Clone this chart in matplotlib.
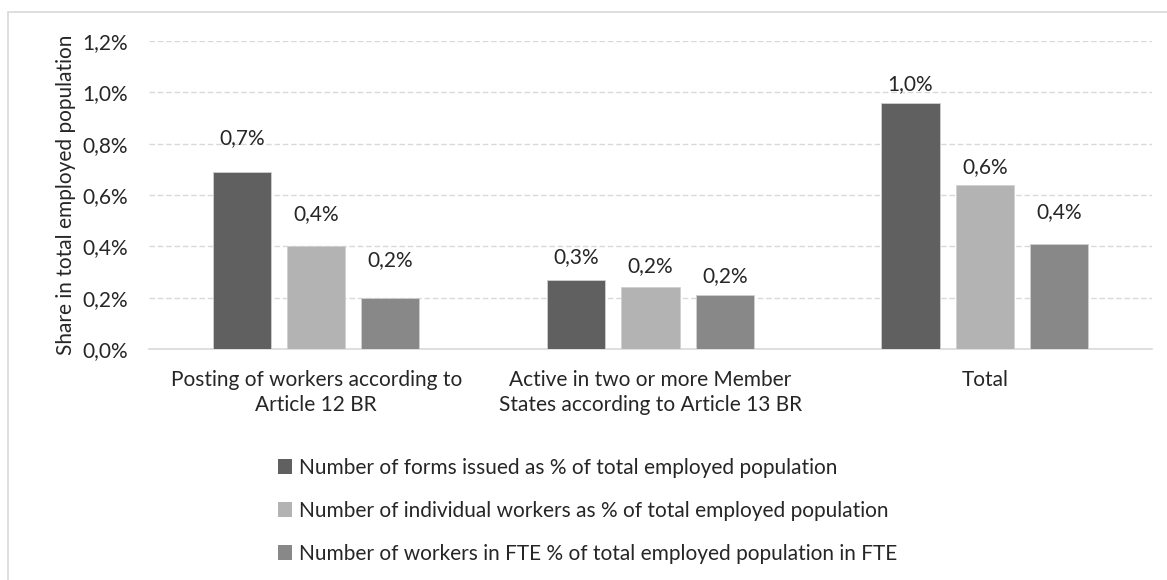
import numpy as np
import matplotlib.pyplot as plt
from matplotlib.patches import Rectangle, Patch

plt.rcParams['font.family'] = ['Lato', 'DejaVu Sans']

categories = ['Posting of workers according to\nArticle 12 BR',
              'Active in two or more Member\nStates according to Article 13 BR',
              'Total']
series_names = ['Number of forms issued as % of total employed population',
                'Number of individual workers as % of total employed population',
                'Number of workers in FTE % of total employed population in FTE']
forms_issued = [0.69, 0.27, 0.96]
individual_workers = [0.40, 0.24, 0.64]
workers_fte = [0.20, 0.21, 0.41]
bar_labels = [['0,7%', '0,3%', '1,0%'],
              ['0,4%', '0,2%', '0,6%'],
              ['0,2%', '0,2%', '0,4%']]
yticks = [0.0, 0.2, 0.4, 0.6, 0.8, 1.0, 1.2]
ytick_labels = ['0,0%', '0,2%', '0,4%', '0,6%', '0,8%', '1,0%', '1,2%']

colors = ['#606060', '#b3b3b3', '#888888']
# label offsets above bar top (points), Excel had them nudged by hand
label_offsets = [[24, 16, 13], [23, 15, 13], [27, 14, 23]]

fig = plt.figure(figsize=(11.67, 5.80), dpi=100)
ax = fig.add_axes([0.1277, 0.3983, 0.8594, 0.531])

x = np.arange(len(categories))
width = 0.174
step = 0.222
series = [forms_issued, individual_workers, workers_fte]
for i, vals in enumerate(series):
    pos = x + (i - 1) * step
    ax.bar(pos, vals, width, color=colors[i], edgecolor='#d0d0d0', linewidth=0.6, zorder=3)
    for j, v in enumerate(vals):
        ax.annotate(bar_labels[i][j], (pos[j], v), xytext=(0, label_offsets[i][j]),
                    textcoords='offset points', ha='center', va='center',
                    fontsize=15, color='#262626')

ax.set_xlim(-0.5, 2.5)
ax.set_ylim(0, 1.2)
ax.set_yticks(yticks)
ax.set_yticklabels(ytick_labels)
ax.set_xticks(x)
ax.set_xticklabels(categories, linespacing=1.3)
ax.tick_params(axis='both', length=0, labelsize=15, colors='#262626')
ax.tick_params(axis='y', pad=15)
ax.tick_params(axis='x', pad=15)
ax.grid(axis='y', color='#d9d9d9', linestyle=(0, (4, 2)), linewidth=1, zorder=0)
for s in ['top', 'right', 'left']:
    ax.spines[s].set_visible(False)
ax.spines['bottom'].set_color('#d9d9d9')
ax.spines['bottom'].set_linewidth(1.2)
ax.set_ylabel('Share in total employed population', fontsize=15, color='#262626', labelpad=5)

handles = [Patch(facecolor=c, edgecolor='none') for c in colors]
fig.legend(handles, series_names, loc='upper left', bbox_to_anchor=(0.222, 0.243),
           frameon=False, fontsize=15, handlelength=0.7, handleheight=0.7,
           handletextpad=0.3, labelspacing=1.1, labelcolor='#262626')

# chart frame: only top and left edges fall inside the image
fig.patches.append(Rectangle((8 / 1167, -0.1), 1.2, (580 - 12) / 580 + 0.1,
                             transform=fig.transFigure, fill=False,
                             edgecolor='#d9d9d9', linewidth=1.2))

fig.savefig('out.png', dpi=100)
